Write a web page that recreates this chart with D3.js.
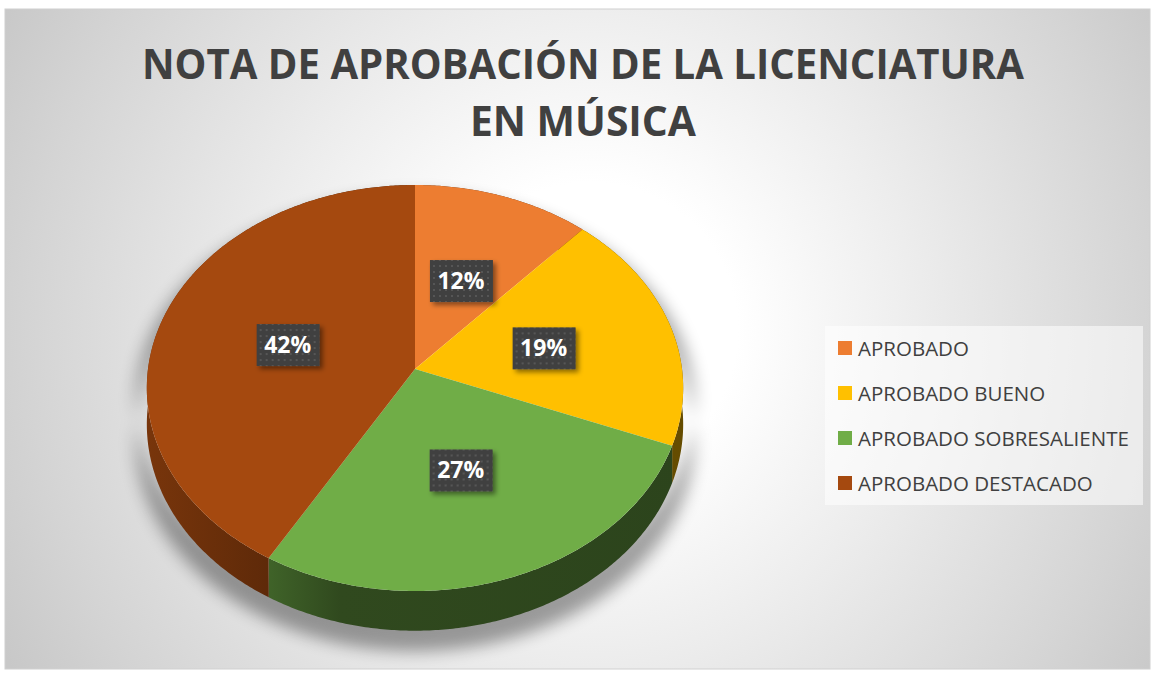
<!DOCTYPE html>
<html>
<head>
<meta charset="utf-8">
<script src="https://cdn.jsdelivr.net/npm/d3@7/dist/d3.min.js"></script>
<style>
    body { margin: 0; background: #fff; }
    text { font-family: "Open Sans", "Noto Sans", sans-serif; }
</style>
</head>
<body>
<svg class="chart"></svg>
<script>
// chart data
var categories = ["APROBADO", "APROBADO BUENO", "APROBADO SOBRESALIENTE", "APROBADO DESTACADO"];
var values = [11.7, 19.3, 27.4, 41.6];
var colors = ["#ED7D31", "#FFC000", "#70AD47", "#A5490F"];
var titleLines = ["NOTA DE APROBACIÓN DE LA LICENCIATURA", "EN MÚSICA"];

function show() {
    'use strict';

    var width = 1156, height = 677;

    var svg = d3.select(".chart")
        .attr("width", width)
        .attr("height", height);

    var defs = svg.append("defs");

    // background: soft radial gradient, white in the middle
    var bg = defs.append("radialGradient").attr("id", "bg")
        .attr("gradientUnits", "userSpaceOnUse")
        .attr("cx", 590).attr("cy", 330).attr("r", 670);
    [[0, "#ffffff"], [0.22, "#ffffff"], [0.5, "#ececec"], [0.84, "#d4d4d4"], [1, "#c8c8c8"]]
        .forEach(function (s) {
            bg.append("stop").attr("offset", s[0]).attr("stop-color", s[1]);
        });

    svg.append("rect")
        .attr("x", 5).attr("y", 9)
        .attr("width", 1145).attr("height", 660)
        .attr("fill", "url(#bg)")
        .attr("stroke", "#d0d0d0");

    // filters
    var blur = defs.append("filter").attr("id", "pieShadow")
        .attr("x", "-20%").attr("y", "-20%").attr("width", "140%").attr("height", "140%");
    blur.append("feGaussianBlur").attr("stdDeviation", 8);

    var drop = defs.append("filter").attr("id", "boxShadow")
        .attr("x", "-30%").attr("y", "-30%").attr("width", "160%").attr("height", "160%");
    drop.append("feDropShadow")
        .attr("dx", 3).attr("dy", 3).attr("stdDeviation", 2.5)
        .attr("flood-color", "#000").attr("flood-opacity", 0.45);

    // dotted fill of the data label boxes
    var dots = defs.append("pattern").attr("id", "dots")
        .attr("patternUnits", "userSpaceOnUse")
        .attr("width", 6).attr("height", 6);
    dots.append("rect").attr("width", 6).attr("height", 6).attr("fill", "#404040");
    dots.append("rect").attr("x", 2).attr("y", 2).attr("width", 2).attr("height", 2).attr("fill", "#575757");

    // title
    svg.append("g").selectAll("text")
        .data(titleLines).enter().append("text")
            .attr("x", 583)
            .attr("y", function (d, i) { return 79 + i * 57; })
            .attr("text-anchor", "middle")
            .attr("font-size", 42)
            .attr("font-weight", 700)
            .attr("fill", "#404040")
            .text(function (d) { return d; })
            .each(function (d, i) {
                // the original face is narrower, keep the same line width
                var target = i === 0 ? 882 : 226;
                if (this.getComputedTextLength() > target) {
                    d3.select(this).attr("textLength", target).attr("lengthAdjust", "spacingAndGlyphs");
                }
            });

    // 3D pie: tilted disc seen with a little perspective
    var cx = 415, cy = 369, R = 267, T = 201.2, dist = 10.68, depth = 36;

    function proj(a, r, h) {
        var u = Math.sin(a) * r, v = -Math.cos(a) * r,
            f = dist / (dist - v);
        return [cx + R * u * f, cy + (T * v + h) * f];
    }

    function arcPoints(a0, a1, h) {
        var n = Math.max(2, Math.ceil(Math.abs(a1 - a0) / 0.01)), pts = [];
        for (var i = 0; i <= n; i++) pts.push(proj(a0 + (a1 - a0) * i / n, 1, h));
        return pts;
    }

    var line = d3.line().curve(d3.curveLinear);

    function topPath(d) {
        return line([proj(0, 0, 0)].concat(arcPoints(d.startAngle, d.endAngle, 0))) + "Z";
    }

    function sidePath(d) {
        var top = arcPoints(d.startAngle, d.endAngle, 0),
            bottom = arcPoints(d.endAngle, d.startAngle, depth);
        return line(top.concat(bottom)) + "Z";
    }

    var arcs = d3.pie().sort(null).value(function (d) { return d; })(values);

    // soft shadow under the disc
    var whole = {startAngle: 0, endAngle: 2 * Math.PI};
    svg.append("path")
        .attr("d", sidePath(whole))
        .attr("transform", "translate(" + cx + "," + (cy + 14) + ") scale(1.04,1.025) translate(" + (-cx) + "," + (-cy) + ")")
        .attr("fill", "#000")
        .attr("opacity", 0.36)
        .attr("filter", "url(#pieShadow)");

    // side shading gets darker toward the right
    arcs.forEach(function (d, i) {
        var g = defs.append("linearGradient").attr("id", "side" + i)
            .attr("gradientUnits", "userSpaceOnUse")
            .attr("x1", cx - R).attr("x2", cx + R).attr("y1", 0).attr("y2", 0);
        var c = d3.color(colors[i]);
        [[0, 0.9], [0.22, 1.55], [0.36, 2.4], [1, 2.6]].forEach(function (s) {
            g.append("stop").attr("offset", s[0]).attr("stop-color", c.darker(s[1]));
        });
    });

    svg.append("g").selectAll(".side")
        .data(arcs).enter().append("path")
            .attr("class", "side")
            .attr("d", sidePath)
            .attr("fill", function (d, i) { return "url(#side" + i + ")"; });

    svg.append("g").selectAll(".slice")
        .data(arcs).enter().append("path")
            .attr("class", "slice")
            .attr("d", topPath)
            .attr("fill", function (d, i) { return colors[i]; });

    // data labels
    var total = d3.sum(values), pct = d3.format(".0%");
    var labels = svg.append("g").selectAll(".label")
        .data(arcs).enter().append("g")
            .attr("class", "label")
            .attr("transform", function (d) {
                var p = proj((d.startAngle + d.endAngle) / 2, 0.5, 0);
                return "translate(" + p[0] + "," + (p[1] + 2) + ")";
            });

    labels.append("rect")
        .attr("x", -31).attr("y", -21)
        .attr("width", 63).attr("height", 42)
        .attr("fill", "url(#dots)")
        .attr("filter", "url(#boxShadow)");

    labels.append("text")
        .attr("text-anchor", "middle")
        .attr("dy", 8)
        .attr("font-size", 23)
        .attr("font-weight", 700)
        .attr("fill", "#fff")
        .text(function (d) { return pct(d.value / total); });

    // legend
    var legend = svg.append("g").attr("transform", "translate(825,326)");
    legend.append("rect")
        .attr("width", 318).attr("height", 179)
        .attr("fill", "#fff").attr("fill-opacity", 0.55);

    var items = legend.selectAll(".item")
        .data(categories).enter().append("g")
            .attr("class", "item")
            .attr("transform", function (d, i) { return "translate(13," + (22 + i * 45) + ")"; });

    items.append("rect")
        .attr("y", -7).attr("width", 14).attr("height", 14)
        .attr("fill", function (d, i) { return colors[i]; });

    items.append("text")
        .attr("x", 20).attr("dy", 7.5)
        .attr("font-size", 20.5)
        .attr("fill", "#404040")
        .text(function (d) { return d; });
}

show();
</script>
</body>
</html>
